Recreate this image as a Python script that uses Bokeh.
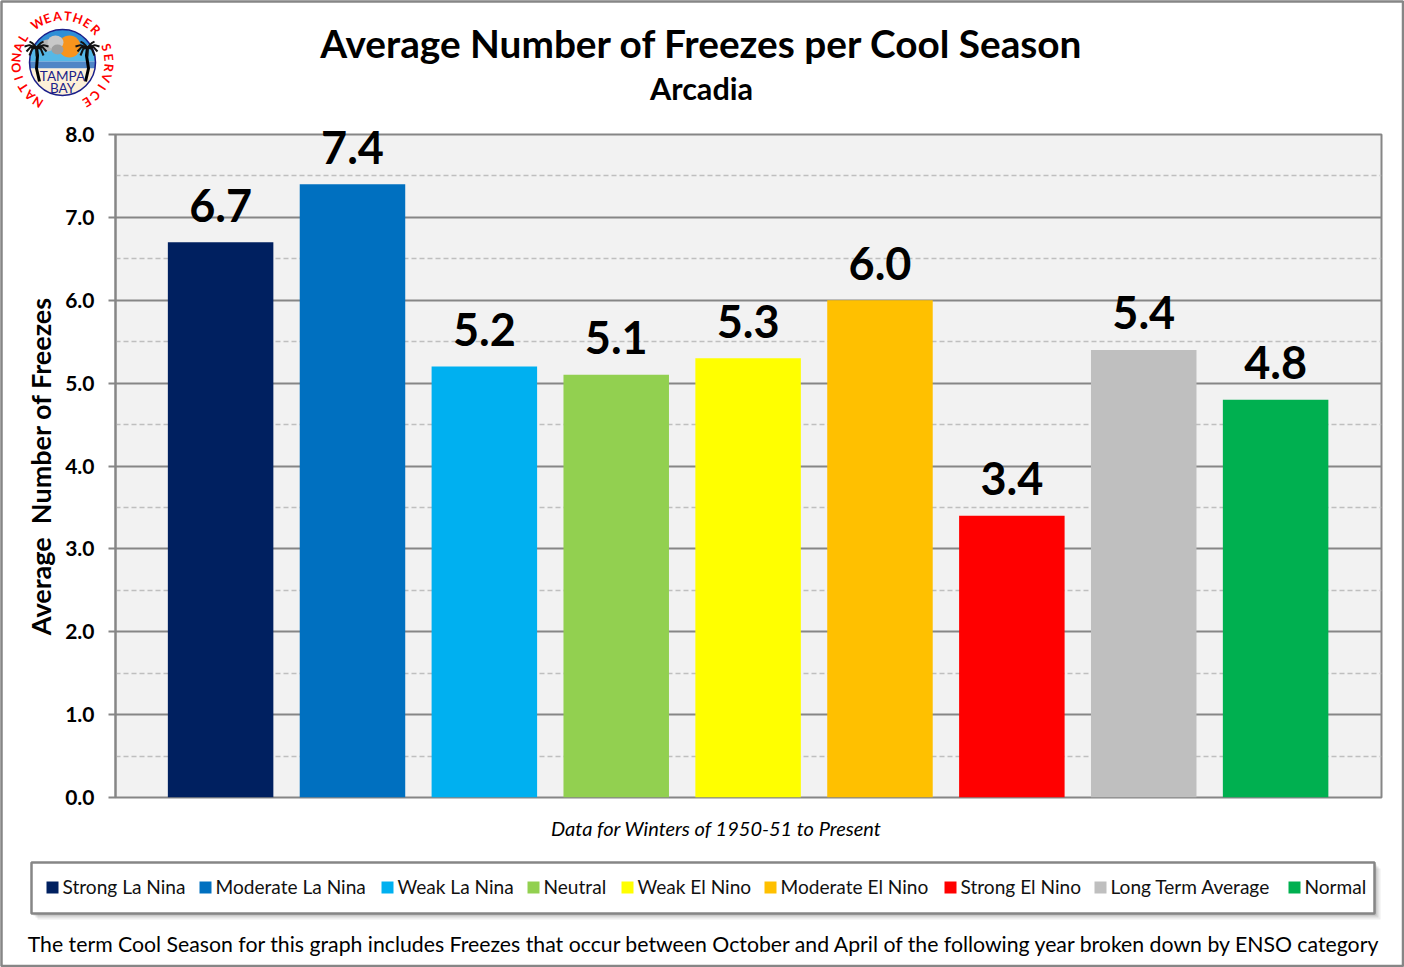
import math
from bokeh.core.properties import value
from bokeh.embed import file_html
from bokeh.resources import INLINE
from bokeh.plotting import figure
from bokeh.models import ColumnDataSource, FixedTicker, Range1d, PrintfTickFormatter

FONT = "Lato"

categories = ["Strong La Nina", "Moderate La Nina", "Weak La Nina", "Neutral", "Weak El Nino",
              "Moderate El Nino", "Strong El Nino", "Long Term Average", "Normal"]
values = [6.7, 7.4, 5.2, 5.1, 5.3, 6.0, 3.4, 5.4, 4.8]
colors = ["#002060", "#0070C0", "#00B0F0", "#92D050", "#FFFF00", "#FFC000", "#FF0000", "#BFBFBF", "#00B050"]
y_ticks = [0, 1, 2, 3, 4, 5, 6, 7, 8]
y_minor_ticks = [0.5, 1.5, 2.5, 3.5, 4.5, 5.5, 6.5, 7.5]
legend_swatch_left = [46, 199, 381, 527, 621, 764, 944, 1094, 1288]

title_text = "Average Number of Freezes per Cool Season"
subtitle_text = "Arcadia"
y_label = "Average \u00a0Number of Freezes"
period_text = "Data for Winters of 1950-51 to Present"
note_text = "The term Cool Season for this graph includes Freezes that occur between October and April of the following year broken down by ENSO category"

W, H = 1404, 967
GRAY = "#868686"
TOP, BOTTOM, LEFT, RIGHT = 134, 797, 115, 1381

p = figure(width=W, height=H, output_backend="svg", toolbar_location=None,
           x_range=Range1d(-0.797, 8.803), y_range=Range1d(0, 8),
           min_border_left=LEFT, min_border_right=W - RIGHT, min_border_top=TOP, min_border_bottom=H - BOTTOM,
           background_fill_color="#F2F2F2", border_fill_color="white",
           styles={"position": "absolute", "left": "0px", "top": "0px"})
# pixel-based helper ranges for page furniture
p.extra_x_ranges["px"] = Range1d(LEFT, RIGHT)
p.extra_y_ranges["px"] = Range1d(BOTTOM, TOP)
PX = dict(x_range_name="px", y_range_name="px")

p.outline_line_color = GRAY
p.outline_line_width = 2
p.xaxis.visible = False
p.xgrid.visible = False

ax = p.yaxis[0]
ax.ticker = FixedTicker(ticks=y_ticks, minor_ticks=y_minor_ticks)
ax.formatter = PrintfTickFormatter(format="%.1f")
ax.axis_line_color = GRAY
ax.axis_line_width = 2
ax.major_tick_line_color = GRAY
ax.major_tick_line_width = 2
ax.major_tick_out = 7
ax.major_tick_in = 0
ax.minor_tick_line_color = None
ax.major_label_text_font = FONT
ax.major_label_text_font_style = "bold"
ax.major_label_text_font_size = "21px"
ax.major_label_text_color = "black"
ax.major_label_standoff = 14
ax.axis_label = y_label
ax.axis_label_text_font = FONT
ax.axis_label_text_font_style = "bold"
ax.axis_label_text_font_size = "27px"
ax.axis_label_text_color = "black"
ax.axis_label_standoff = 5

g = p.ygrid[0]
g.grid_line_color = GRAY
g.grid_line_width = 2
g.minor_grid_line_color = "#BFBFBF"
g.minor_grid_line_width = 1.5
g.minor_grid_line_dash = [5, 3]

for i, (v, c) in enumerate(zip(values, colors)):
    p.vbar(x=[i], top=[v], bottom=0, width=0.8, fill_color=c, line_color=None)

src = ColumnDataSource(dict(x=list(range(len(values))), y=values, t=[f"{v:.1f}" for v in values]))
p.text(x="x", y="y", text="t", source=src, text_font=value(FONT), text_font_style="bold",
       text_font_size="45px", text_color="black", text_align="center",
       text_baseline="alphabetic", y_offset=-37, level="overlay")

# titles and notes
def label(text, x, y, size, style="normal", align="center", color="black"):
    p.text(x=[x], y=[y], text=[text], text_font=value(FONT), text_font_size=size, text_font_style=style,
           text_color=color, text_align=align, text_baseline="middle", level="overlay", **PX)

label(title_text, 701.5, 42, "38.75px", "bold")
label(subtitle_text, 701, 88, "30.6px", "bold")
label(period_text, 716, 827, "20px", "italic")
label(note_text, 704.5, 943, "21.25px")

# legend frame with soft shadow
for k, a in zip([6, 4, 2], [0.10, 0.14, 0.22]):
    p.quad(left=[31 + k], right=[1374 + k], top=[862 + k], bottom=[913 + k], fill_color="#555555",
           fill_alpha=a, line_color=None, level="annotation", **PX)
p.quad(left=[31], right=[1374], top=[862], bottom=[913], fill_color="white", line_color=GRAY,
       line_width=2.5, level="annotation", **PX)
for name, c, sx in zip(categories, colors, legend_swatch_left):
    p.quad(left=[sx], right=[sx + 12], top=[881], bottom=[893], fill_color=c, line_color=None, level="overlay", **PX)
    label(name, sx + 16, 886, "19.1px", align="left", color="#111111")

# outer picture border
p.quad(left=[1], right=[1402.5], top=[1], bottom=[965.5], fill_color=None, line_color=GRAY,
       line_width=2.5, level="overlay", **PX)

# ---- logo ----
cx, cy, rad = 62, 62, 33
logo = dict(level="overlay", **PX)
def disc(x, y, rx, ry, color):
    p.ellipse(x=[x], y=[y], width=2 * rx, height=2 * ry, fill_color=color, line_color=None, **logo)

def chord_patch(y0, y1, color):
    n = 24
    ys = [y0 + (y1 - y0) * j / n for j in range(n + 1)]
    half = [math.sqrt(max(rad * rad - (y - cy) ** 2, 0)) for y in ys]
    xs = [cx - d for d in half] + [cx + d for d in reversed(half)]
    p.patch(xs, ys + ys[::-1], fill_color=color, line_color=None, **logo)

chord_patch(29, 45, "#2F8FD6")
chord_patch(45, 61, "#55B8E6")
chord_patch(61, 68, "#4F86C6")
chord_patch(68, 95, "#FDF0D8")
disc(69, 46, 11, 11, "#F7941D")
disc(47, 45, 7, 6, "#B5B5B5")
disc(55, 42, 8, 7, "#C8C8C8")
disc(57, 49, 6, 5, "#9E9E9E")
p.ellipse(x=[cx], y=[cy], width=2 * rad, height=2 * rad, fill_color=None, line_color="#1B1F8A", line_width=1.5, **logo)
# palm trees
for sign, base_x, crown_x in [(1, 39, 36), (-1, 85, 87)]:
    p.line([base_x, base_x - sign * 3, crown_x + sign * 1, crown_x], [81, 68, 55, 47], line_color="black", line_width=3, **logo)
    for dx, dy in [(-12, -1), (-10, 4), (-7, 8), (12, -1), (10, 4), (7, 8), (-7, -6), (7, -6), (0, 9)]:
        p.line([crown_x, crown_x + dx * 0.6, crown_x + dx], [47, 47 + dy * 0.4 - 2, 47 + dy], line_color="#111111", line_width=2, **logo)
p.text(x=[62, 62], y=[75, 87], text=["TAMPA", "BAY"], text_font_size="13.5px", text_font=value(FONT),
       text_color="#1B1F8A", text_align="center", text_baseline="middle", **logo)
ring = "NATIONAL WEATHER SERVICE"
ring_x, ring_y, ring_a = [], [], []
for j, ch in enumerate(ring):
    th = math.radians(-148 + 296 * j / (len(ring) - 1))
    ring_x.append(cx + 46.5 * math.sin(th))
    ring_y.append(cy - 46.5 * math.cos(th))
    ring_a.append(-th)
p.text(x=ring_x, y=ring_y, text=list(ring), angle=ring_a, text_font_size="12.5px", text_font_style="bold",
       text_font=value(FONT), text_color="#FF0000", text_align="center", text_baseline="middle", **logo)
p.scatter(x=[49, 62, 75], y=[106, 108, 106], marker="star", size=[6, 9, 6],
          fill_color=["#1B1F8A", "#FF0000", "#1B1F8A"], line_color=None, **logo)

open("out.html", "w").write(file_html(p, INLINE))
